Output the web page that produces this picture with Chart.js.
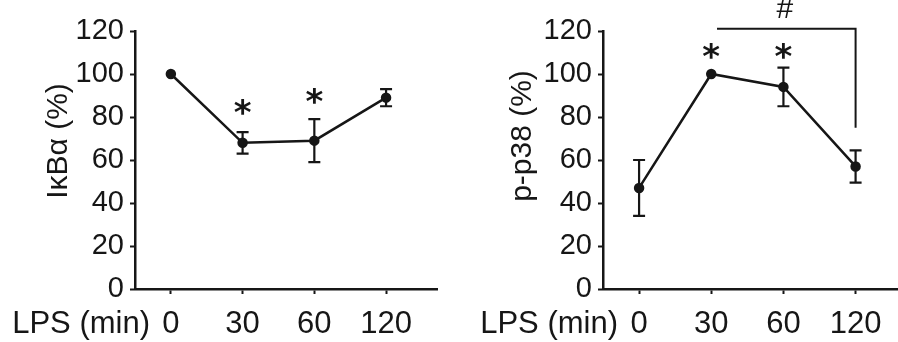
<!DOCTYPE html>
<html>
<head>
<meta charset="utf-8">
<script src="https://cdn.jsdelivr.net/npm/chart.js@4.4.1/dist/chart.umd.min.js"></script>
<style>
  html, body { margin: 0; padding: 0; background: #fff; }
  #wrap { position: relative; width: 898px; height: 342px; overflow: hidden; }
  .panel { position: absolute; top: 0; height: 342px; }
  #left { left: 0; width: 449px; }
  #right { left: 449px; width: 460px; }
</style>
</head>
<body>
<div id="wrap">
  <div class="panel" id="left"><canvas id="ikbaChart"></canvas></div>
  <div class="panel" id="right"><canvas id="p38Chart"></canvas></div>
</div>
<script>
// Data
const timeLabels = ['0', '30', '60', '120'];
const yTicks = [0, 20, 40, 60, 80, 100, 120];

const ikbaMean = [100, 68, 69, 89];
const ikbaErr = [0, 5, 10, 4];
const ikbaStars = [null, 84, 89, null];

const p38Mean = [47, 100, 94, 57];
const p38Err = [13, 0, 9, 7.5];
const p38Stars = [null, 110, 110, null];

// "#" bracket between 30 and 120 min (x index, value)
const bracketX = [1.08, 3, 3];
const bracketY = [121, 121, 75];
const hashMark = { x: 2.02, y: 130 };

const INK = '#161616';
const FONT = '"Liberation Sans", Arial, sans-serif';

// error bars, stars and axis captions
const extrasPlugin = {
  id: 'extras',
  afterDatasetsDraw(chart, args, opts) {
    const ctx = chart.ctx;
    const xs = chart.scales.x;
    const ys = chart.scales.y;
    ctx.save();
    ctx.strokeStyle = INK;
    ctx.fillStyle = INK;
    ctx.lineWidth = 2.2;
    opts.mean.forEach((m, i) => {
      const e = opts.err[i];
      if (!e) return;
      const x = xs.getPixelForValue(i);
      const top = ys.getPixelForValue(m + e);
      const bot = ys.getPixelForValue(m - e);
      ctx.beginPath();
      ctx.moveTo(x, top); ctx.lineTo(x, bot);
      ctx.moveTo(x - 6, top); ctx.lineTo(x + 6, top);
      ctx.moveTo(x - 6, bot); ctx.lineTo(x + 6, bot);
      ctx.stroke();
    });

    ctx.font = 'bold 34px "DejaVu Sans", sans-serif';
    ctx.textAlign = 'center';
    ctx.textBaseline = 'middle';
    opts.stars.forEach((s, i) => {
      if (s == null) return;
      ctx.fillText('*', xs.getPixelForValue(i), ys.getPixelForValue(s) + 7);
    });
    if (opts.hash) {
      ctx.font = '30px ' + FONT;
      ctx.fillText('#', xs.getPixelForValue(opts.hash.x), ys.getPixelForValue(opts.hash.y));
    }

    // x caption
    ctx.font = '31px ' + FONT;
    ctx.textAlign = 'right';
    ctx.textBaseline = 'alphabetic';
    ctx.fillText('LPS (min)', opts.capRight, 333);

    // y title
    ctx.translate(opts.titleX, opts.titleY);
    ctx.rotate(-Math.PI / 2);
    ctx.font = '30px ' + FONT;
    ctx.textAlign = 'center';
    ctx.fillText(opts.title, 0, 0);
    ctx.restore();
  }
};

function makePanel(canvasId, mean, err, stars, yWidth, xMax, padRight, extra) {
  const datasets = [{
    data: mean.map((v, i) => ({ x: i, y: v })),
    borderColor: INK,
    backgroundColor: INK,
    borderWidth: 2.5,
    pointRadius: 4,
    pointHoverRadius: 4,
    tension: 0
  }];
  if (extra.bracket) {
    datasets.push({
      data: bracketX.map((x, i) => ({ x: x, y: bracketY[i] })),
      borderColor: INK,
      borderWidth: 2,
      pointRadius: 0,
      clip: false
    });
  }

  return new Chart(document.getElementById(canvasId), {
    type: 'line',
    data: { datasets: datasets },
    options: {
      responsive: true,
      maintainAspectRatio: false,
      animation: false,
      events: [],
      layout: { padding: { top: 31, right: padRight, left: 0, bottom: 0 } },
      plugins: {
        legend: { display: false },
        tooltip: { enabled: false },
        extras: {
          mean: mean, err: err, stars: stars,
          hash: extra.bracket ? hashMark : null,
          title: extra.title, titleX: extra.titleX, titleY: extra.titleY,
          capRight: extra.capRight
        }
      },
      scales: {
        x: {
          type: 'linear',
          min: -0.5,
          max: xMax,
          afterBuildTicks: s => { s.ticks = timeLabels.map((_, i) => ({ value: i })); },
          afterFit: s => { s.height = 53; },
          grid: { drawOnChartArea: false, color: INK, tickLength: 5, tickWidth: 2 },
          border: { color: INK, width: 2.5 },
          ticks: {
            color: INK,
            font: { family: FONT, size: 31 },
            padding: 12,
            maxRotation: 0,
            callback: v => timeLabels[v]
          }
        },
        y: {
          min: 0,
          max: 120,
          afterBuildTicks: s => { s.ticks = yTicks.map(v => ({ value: v })); },
          afterFit: s => { s.width = yWidth; },
          grid: { drawOnChartArea: false, color: INK, tickLength: 5, tickWidth: 2 },
          border: { color: INK, width: 2.5 },
          ticks: {
            color: INK,
            font: { family: FONT, size: 29 },
            padding: 6
          }
        }
      }
    },
    plugins: [extrasPlugin]
  });
}

makePanel('ikbaChart', ikbaMean, ikbaErr, ikbaStars, 135, 3.71, 12,
  { title: 'IκBα (%)', titleX: 67, titleY: 141, capRight: 150 });
makePanel('p38Chart', p38Mean, p38Err, p38Stars, 154, 3.65, 0,
  { title: 'p-p38 (%)', titleX: 82, titleY: 136, capRight: 169, bracket: true });
</script>
</body>
</html>
